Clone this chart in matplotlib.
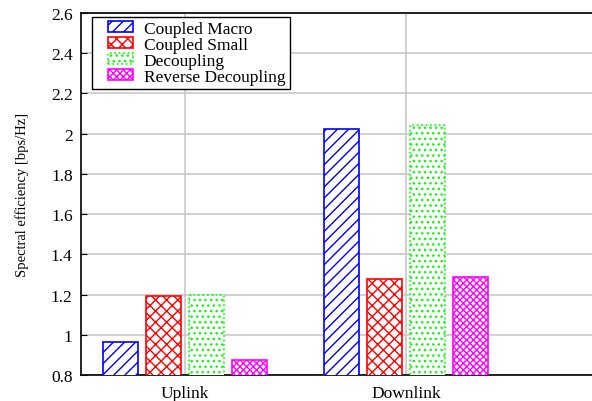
import numpy as np
import matplotlib.pyplot as plt
from matplotlib.patches import Rectangle
from matplotlib.legend_handler import HandlerPatch
from matplotlib.ticker import FuncFormatter

plt.rcParams['font.family'] = ['Liberation Serif', 'DejaVu Serif']
plt.rcParams['hatch.linewidth'] = 1.0

links = ['Uplink', 'Downlink']
schemes = ['Coupled Macro', 'Coupled Small', 'Decoupling', 'Reverse Decoupling']
coupled_macro = [0.965, 2.022]
coupled_small = [1.193, 1.278]
decoupling = [1.198, 2.043]
reverse_decoupling = [0.876, 1.287]

series = [coupled_macro, coupled_small, decoupling, reverse_decoupling]
colors = ['#0000ff', '#ff0000', '#00ff00', '#ff00ff']
hatches = ['///', 'xxx', '...', 'xxxxx']
edge_styles = ['-', '-', ':', '-']


def key_patch(legend, orig_handle, xdescent, ydescent, width, height, fontsize):
    # narrower swatch pushed right, gnuplot-style key
    p = Rectangle((-xdescent + 0.3 * width, -ydescent), 0.7 * width, height)
    p.update_from(orig_handle)
    return p


fig = plt.figure(figsize=(5.92, 4.02), dpi=100)
# right edge of the frame falls off the canvas
ax = fig.add_axes([81 / 592, 1 - 376 / 402, 519 / 592, 362 / 402])

x = np.arange(len(links))
width = 0.158
pitch = 0.195
bars = []
for i, (vals, c, h, ls) in enumerate(zip(series, colors, hatches, edge_styles)):
    off = (i - 1.5) * pitch
    b = ax.bar(x + off, vals, width, bottom=0, color='white', edgecolor=c,
               hatch=h, linewidth=1.2, linestyle=ls, label=schemes[i], zorder=3)
    bars.append(b)

ax.set_ylim(0.8, 2.6)
ax.set_xlim(-0.47, 1.878)
ax.set_yticks(np.arange(0.8, 2.61, 0.2))
ax.yaxis.set_major_formatter(FuncFormatter(lambda v, p: '%g' % round(v, 1)))
ax.set_xticks(x)
ax.set_xticklabels(links)
ax.tick_params(axis='both', direction='in', labelsize=12.5, length=4)
ax.tick_params(axis='y', pad=6)
ax.tick_params(axis='x', length=0, pad=7)
ax.grid(True, color='#c8c8c8', linewidth=1.2, zorder=0)
ax.set_axisbelow(True)
for s in ax.spines.values():
    s.set_linewidth(1.2)

ax.set_ylabel('Spectral efficiency [bps/Hz]', fontsize=10.5, labelpad=16)

leg = ax.legend([b[0] for b in bars], schemes,
                loc='upper left', bbox_to_anchor=(0.022, 0.99), fontsize=12.5,
                fancybox=False, edgecolor='black', framealpha=1,
                handlelength=2.1, handleheight=0.6, labelspacing=0.0,
                borderpad=0.25, handletextpad=0.6, borderaxespad=0,
                handler_map={Rectangle: HandlerPatch(patch_func=key_patch)})
leg.get_frame().set_linewidth(1.0)

fig.savefig('out.png', dpi=100)
